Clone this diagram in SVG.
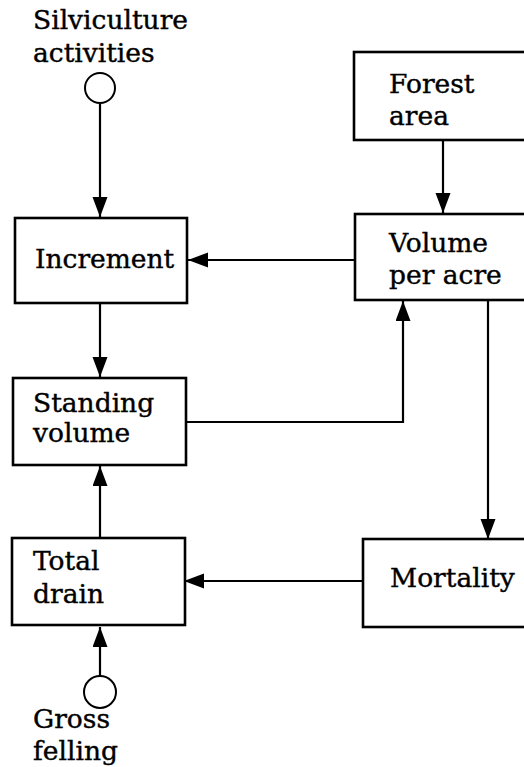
<svg xmlns="http://www.w3.org/2000/svg" width="524" height="767" viewBox="0 0 524 767">
  <style>
    .box { fill: #ffffff; stroke: #000000; stroke-width: 2.6; }
    .src { fill: #ffffff; stroke: #000000; stroke-width: 2; }
    .lbl { font-family: "DejaVu Serif", "Liberation Serif", serif; font-size: 26.5px; fill: #000000; stroke: #000000; stroke-width: 0.4; }
    .flow { fill: none; stroke: #000000; stroke-width: 2.2; }
  </style>
  <defs>
    <marker id="arrow" markerUnits="userSpaceOnUse" markerWidth="22" markerHeight="16" refX="20" refY="7.5" orient="auto">
      <path d="M0,0 L20,7.5 L0,15 Z" fill="#000000"/>
    </marker>
  </defs>

  <rect width="524" height="767" fill="#ffffff"/>

  <!-- flows between stocks and sources -->
  <g id="connectors">
    <path class="flow" d="M100,104 L100,217" marker-end="url(#arrow)"/>
    <path class="flow" d="M443,140 L443,213" marker-end="url(#arrow)"/>
    <path class="flow" d="M355,260 L188,260" marker-end="url(#arrow)"/>
    <path class="flow" d="M100,303 L100,377" marker-end="url(#arrow)"/>
    <path class="flow" d="M186,422 L403,422 L403,301" marker-end="url(#arrow)"/>
    <path class="flow" d="M488,300 L488,539" marker-end="url(#arrow)"/>
    <path class="flow" d="M100,538 L100,466" marker-end="url(#arrow)"/>
    <path class="flow" d="M362,581 L184,581" marker-end="url(#arrow)"/>
    <path class="flow" d="M100,676 L100,627" marker-end="url(#arrow)"/>
  </g>

  <g id="silviculture">
    <text class="lbl" x="33" y="29">Silviculture</text>
    <text class="lbl" x="33" y="62">activities</text>
    <circle class="src" cx="100" cy="88" r="15"/>
  </g>

  <g id="forest-area">
    <rect class="box" x="354" y="52" width="180" height="88"/>
    <text class="lbl" x="389" y="93">Forest</text>
    <text class="lbl" x="389" y="125">area</text>
  </g>

  <g id="increment">
    <rect class="box" x="15" y="218" width="172" height="85"/>
    <text class="lbl" x="35" y="268">Increment</text>
  </g>

  <g id="volume-per-acre">
    <rect class="box" x="355" y="214" width="180" height="86"/>
    <text class="lbl" x="389" y="252">Volume</text>
    <text class="lbl" x="389" y="284">per acre</text>
  </g>

  <g id="standing-volume">
    <rect class="box" x="13" y="378" width="173" height="87"/>
    <text class="lbl" x="33" y="412">Standing</text>
    <text class="lbl" x="33" y="442">volume</text>
  </g>

  <g id="total-drain">
    <rect class="box" x="12" y="538" width="173" height="87"/>
    <text class="lbl" x="33" y="570">Total</text>
    <text class="lbl" x="33" y="603">drain</text>
  </g>

  <g id="mortality">
    <rect class="box" x="363" y="539" width="172" height="88"/>
    <text class="lbl" x="390" y="587">Mortality</text>
  </g>

  <g id="gross-felling">
    <circle class="src" cx="100" cy="692" r="16"/>
    <text class="lbl" x="33" y="728">Gross</text>
    <text class="lbl" x="33" y="760">felling</text>
  </g>
</svg>
